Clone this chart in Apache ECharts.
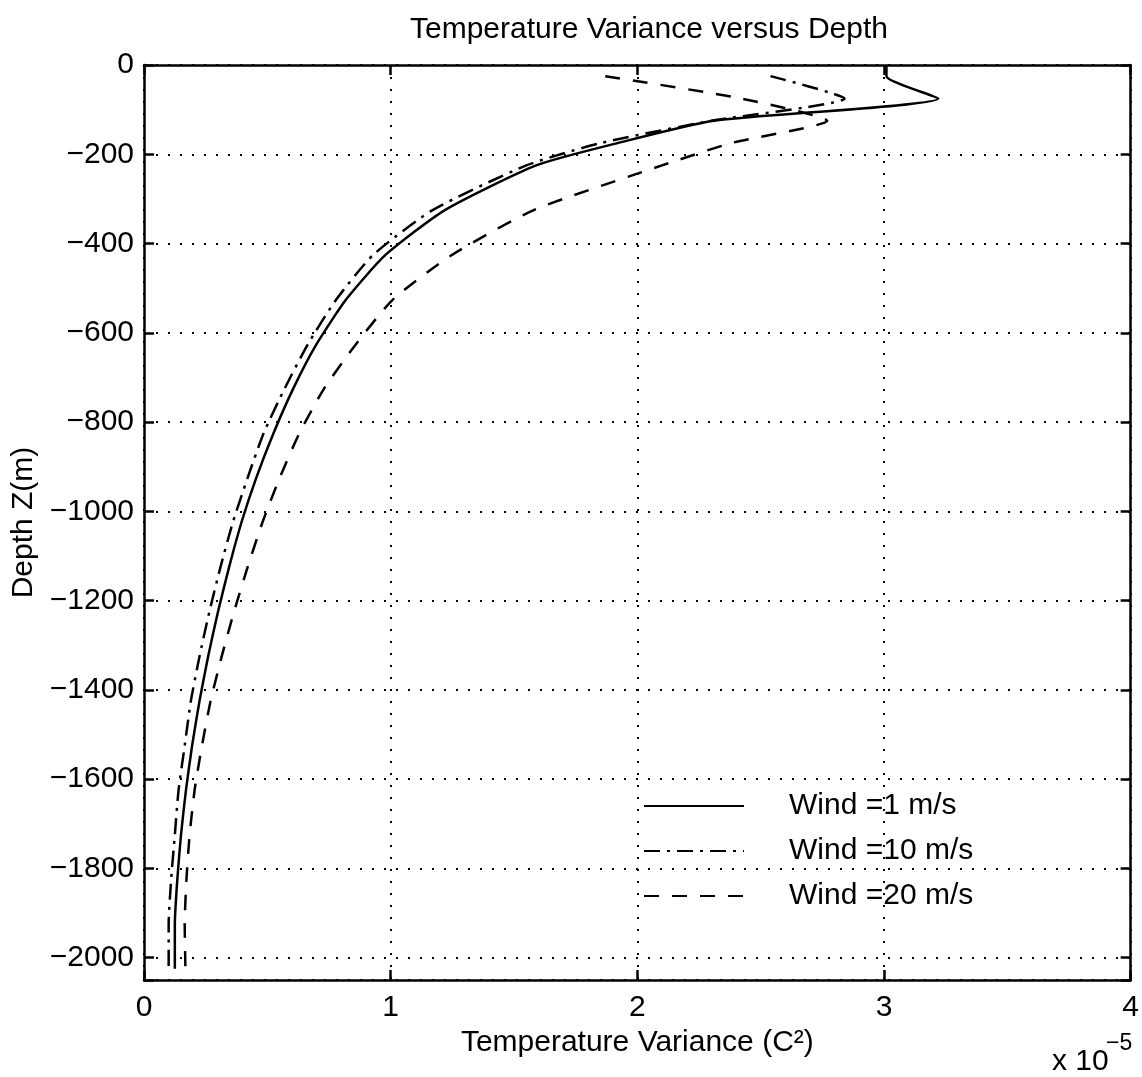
<!DOCTYPE html>
<html>
<head>
<meta charset="utf-8">
<title>Temperature Variance versus Depth</title>
<script src="https://cdn.jsdelivr.net/npm/echarts@6/dist/echarts.min.js"></script>
<style>
	html, body { margin: 0; padding: 0; background: #fff; }
	#chart { width: 1142px; height: 1077px; }
</style>
</head>
<body>
<div id="chart"></div>
<script>
// depth levels (m) and variance for each wind speed, in units of 1e-5 C^2
var depths = [0, -25, -75, -125, -175, -225, -325, -425, -525, -625, -725, -825, -925,
	-1025, -1125, -1225, -1325, -1425, -1525, -1625, -1725, -1825, -1925, -2025];
var wind1 = [3.01, 3.01, 3.22, 2.31, 1.92, 1.59, 1.22, 0.98, 0.82, 0.70, 0.605, 0.525, 0.455,
	0.395, 0.345, 0.30, 0.26, 0.225, 0.195, 0.17, 0.15, 0.135, 0.125, 0.125];
var wind10 = [null, 2.54, 2.84, 2.30, 1.85, 1.55, 1.17, 0.93, 0.78, 0.665, 0.57, 0.485, 0.42,
	0.36, 0.31, 0.265, 0.225, 0.19, 0.165, 0.14, 0.125, 0.11, 0.10, 0.10];
var wind20 = [null, 1.87, 2.42, 2.77, 2.38, 2.10, 1.58, 1.25, 1.01, 0.86, 0.73, 0.63, 0.55,
	0.48, 0.42, 0.365, 0.315, 0.27, 0.235, 0.205, 0.185, 0.172, 0.165, 0.168];
var seriesNames = ['Wind =1 m/s', 'Wind =10 m/s', 'Wind =20 m/s'];
var xTicks = [0, 1, 2, 3, 4];

var FONT = 'Liberation Sans, Arial, Helvetica, sans-serif';

// depth axis is drawn inverted on positive metres so ticks start at 0
function pairs(vals) {
	var out = [];
	for (var i = 0; i < depths.length; i++) {
		out.push(vals[i] == null ? [null, null] : [vals[i], -depths[i]]);
	}
	return out;
}

function depthLabel(v) {
	if (v === 0) return '0';
	if (v % 200 !== 0) return '';
	return '\u2212' + v;
}

var myChart = echarts.init(document.getElementById('chart'));

var frameLine = { show: true, onZero: false, lineStyle: { color: '#000', width: 2.5 } };
var innerTick = { show: true, inside: true, length: 10, lineStyle: { color: '#000', width: 2.5 } };
var dotGrid = { show: true, lineStyle: { color: '#000', width: 2, type: [2, 10] } };

var option = {
	animation: false,
	backgroundColor: '#fff',
	color: ['#000', '#000', '#000'],
	title: {
		text: 'Temperature Variance versus Depth',
		left: 644,
		top: 10,
		textAlign: 'center',
		textStyle: { fontFamily: FONT, fontSize: 30, fontWeight: 'normal', color: '#000' }
	},
	grid: { left: 144, right: 9, top: 65, bottom: 97 },
	legend: {
		orient: 'vertical',
		left: 638,
		top: 786,
		itemWidth: 100,
		itemHeight: 14,
		itemGap: 15,
		selectedMode: false,
		itemStyle: { opacity: 0 },
		data: seriesNames,
		textStyle: { fontFamily: FONT, fontSize: 30, lineHeight: 30, color: '#000', padding: [0, 0, 0, 40] }
	},
	xAxis: [{
		type: 'value',
		position: 'bottom',
		min: xTicks[0],
		max: xTicks[xTicks.length - 1],
		interval: 1,
		name: 'Temperature Variance (C\u00b2)',
		nameLocation: 'middle',
		nameGap: 33,
		nameTextStyle: { fontFamily: FONT, fontSize: 30, color: '#000' },
		axisLine: frameLine,
		axisTick: innerTick,
		axisLabel: { margin: 13, fontFamily: FONT, fontSize: 30, color: '#000' },
		splitLine: dotGrid
	}, {
		type: 'value',
		position: 'top',
		min: xTicks[0],
		max: xTicks[xTicks.length - 1],
		interval: 1,
		axisLine: frameLine,
		axisTick: innerTick,
		axisLabel: { show: false },
		splitLine: { show: false }
	}],
	yAxis: [{
		type: 'value',
		position: 'left',
		inverse: true,
		min: 0,
		max: 2050,
		interval: 200,
		name: 'Depth Z(m)',
		nameLocation: 'middle',
		nameGap: 98,
		nameTextStyle: { fontFamily: FONT, fontSize: 30, color: '#000' },
		axisLine: frameLine,
		axisTick: innerTick,
		axisLabel: { margin: 10, fontFamily: FONT, fontSize: 30, color: '#000', formatter: depthLabel },
		splitLine: dotGrid
	}, {
		type: 'value',
		position: 'right',
		inverse: true,
		min: 0,
		max: 2050,
		interval: 200,
		axisLine: frameLine,
		axisTick: innerTick,
		axisLabel: { show: false },
		splitLine: { show: false }
	}],
	graphic: [
		{ type: 'text', x: 1052, y: 1062, style: { text: 'x 10', font: '30px ' + FONT, fill: '#000', verticalAlign: 'middle' } },
		{ type: 'text', x: 1106, y: 1044, style: { text: '\u22125', font: '23px ' + FONT, fill: '#000', verticalAlign: 'middle' } }
	],
	series: [
		{
			name: seriesNames[0], type: 'line', symbol: 'none', smooth: 0.2, data: pairs(wind1),
			lineStyle: { color: '#000', width: 2.5, type: 'solid' }
		},
		{
			name: seriesNames[1], type: 'line', symbol: 'none', smooth: 0.2, data: pairs(wind10),
			lineStyle: { color: '#000', width: 2.5, type: [16, 7, 3, 7] }
		},
		{
			name: seriesNames[2], type: 'line', symbol: 'none', smooth: 0.2, data: pairs(wind20),
			lineStyle: { color: '#000', width: 2.5, type: [15, 13] }
		}
	]
};
myChart.setOption(option);
</script>
</body>
</html>
